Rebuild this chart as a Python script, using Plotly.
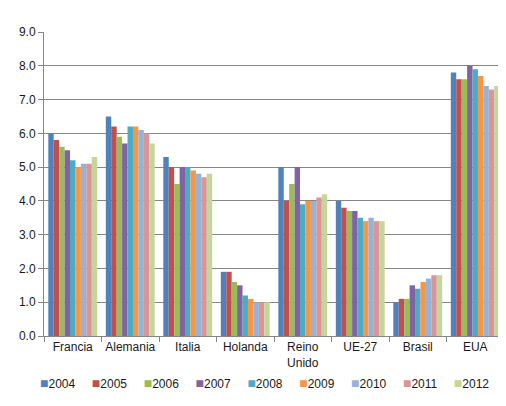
import plotly.graph_objects as go


paises = ['Francia', 'Alemania', 'Italia', 'Holanda', 'Reino<br>Unido',
          'UE-27', 'Brasil', 'EUA']
anios = ['2004', '2005', '2006', '2007', '2008', '2009', '2010', '2011', '2012']

# valores por pais, un array por anio
v2004 = [6.0, 6.5, 5.3, 1.9, 5.0, 4.0, 1.0, 7.8]
v2005 = [5.8, 6.2, 5.0, 1.9, 4.0, 3.8, 1.1, 7.6]
v2006 = [5.6, 5.9, 4.5, 1.6, 4.5, 3.7, 1.1, 7.6]
v2007 = [5.5, 5.7, 5.0, 1.5, 5.0, 3.7, 1.5, 8.0]
v2008 = [5.2, 6.2, 5.0, 1.2, 3.9, 3.5, 1.4, 7.9]
v2009 = [5.0, 6.2, 4.9, 1.1, 4.0, 3.4, 1.6, 7.7]
v2010 = [5.1, 6.1, 4.8, 1.0, 4.0, 3.5, 1.7, 7.4]
v2011 = [5.1, 6.0, 4.7, 1.0, 4.1, 3.4, 1.8, 7.3]
v2012 = [5.3, 5.7, 4.8, 1.0, 4.2, 3.4, 1.8, 7.4]

series = [v2004, v2005, v2006, v2007, v2008, v2009, v2010, v2011, v2012]
colores = ['#4F81BD', '#C0504D', '#9BBB59', '#8064A2', '#4BACC6',
           '#F79646', '#95B3D7', '#D99694', '#C3D69B']

fig = go.Figure()

for anio, valores, color in zip(anios, series, colores):
    fig.add_trace(go.Bar(
        x=paises,
        y=valores,
        name=anio,
        marker=dict(color=color, line=dict(width=0)),
        showlegend=False
    ))

# leyenda como texto con cuadros de color
sep = '\u00a0' * 5
leyenda = sep.join(
    f'<span style="color:{c};font-size:14px">■</span>{a}'
    for a, c in zip(anios, colores)
)

fig.add_annotation(
    text=leyenda,
    xref='paper', yref='paper',
    x=0.48, y=-0.155,
    xanchor='center', yanchor='middle',
    showarrow=False,
    font=dict(size=12, color='#1a1a1a')
)

fig.update_layout(
    width=506,
    height=406,
    margin=dict(l=36, r=10, t=24, b=78),
    paper_bgcolor='white',
    plot_bgcolor='white',
    barmode='group',
    bargap=0.15,
    bargroupgap=0,
    font=dict(family='Liberation Sans', size=12, color='#1a1a1a')
)

fig.update_xaxes(
    showline=True,
    linecolor='#868686',
    linewidth=1,
    ticks='outside',
    tickson='boundaries',
    ticklen=5,
    tickcolor='#868686',
    tickangle=0,
    showgrid=False
)

fig.update_yaxes(
    range=[0, 9],
    dtick=1,
    tickformat='.1f',
    showline=True,
    linecolor='#868686',
    linewidth=1,
    ticks='outside',
    ticklen=5,
    tickcolor='#868686',
    showgrid=True,
    gridcolor='#868686',
    gridwidth=1,
    zeroline=False
)

fig.write_html('out.html')
